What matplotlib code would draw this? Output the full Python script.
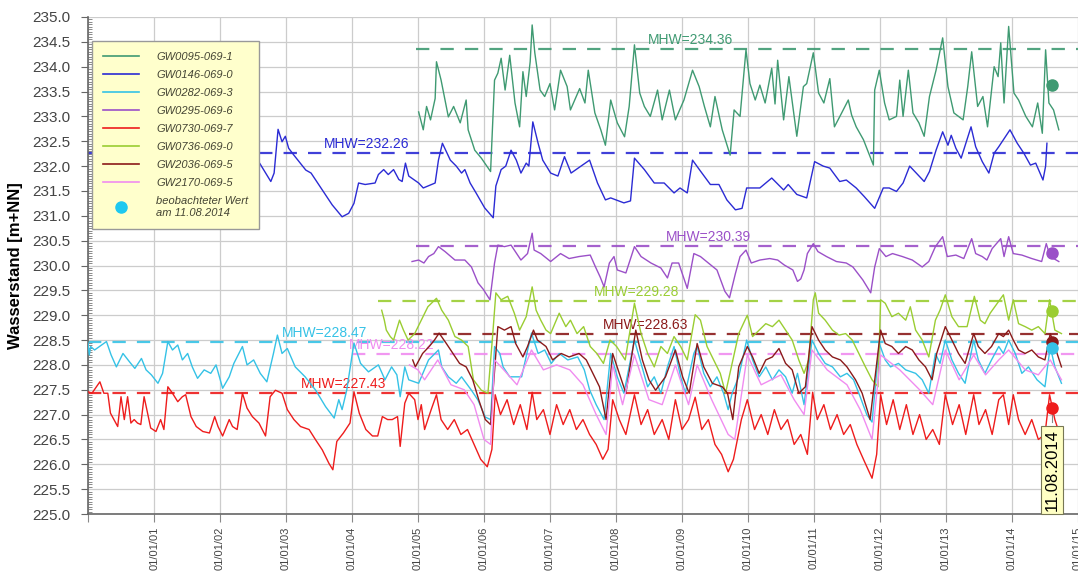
import numpy as np
import pandas as pd
import matplotlib
matplotlib.use("Agg")
import matplotlib.pyplot as plt
import matplotlib.dates as mdates
from matplotlib.lines import Line2D
from matplotlib.ticker import MultipleLocator

plt.rcParams['font.family'] = ['Liberation Sans', 'DejaVu Sans']

# ---------------- data (time in decimal years since 2000-01-01) ----------------
names = ["GW0095-069-1", "GW0146-069-0", "GW0282-069-3", "GW0295-069-6",
         "GW0730-069-7", "GW0736-069-0", "GW2036-069-5", "GW2170-069-5"]
colors = ["#3f9a72", "#2b2bd4", "#35c2e6", "#9b50c8",
          "#ee1c1c", "#9acd32", "#8b1a1a", "#f08cf0"]

t_0095 = [5.01,5.08,5.13,5.19,5.26,5.28,5.35,5.46,5.54,5.64,5.73,5.76,5.86,5.96,6.10,6.16,6.21,6.26,6.32,6.39,
          6.47,6.54,6.59,6.64,6.70,6.73,6.77,6.85,6.92,7.00,7.07,7.16,7.26,7.31,7.45,7.53,7.58,7.68,7.77,7.84,
          7.92,8.02,8.13,8.20,8.28,8.36,8.43,8.52,8.63,8.70,8.81,8.90,9.03,9.16,9.26,9.34,9.43,9.50,9.61,9.73,
          9.79,9.88,9.97,10.03,10.11,10.18,10.26,10.36,10.41,10.45,10.54,10.62,10.74,10.84,10.89,10.99,11.07,11.15,11.24,11.31,
          11.42,11.52,11.57,11.64,11.75,11.90,11.92,11.99,12.07,12.14,12.25,12.30,12.35,12.43,12.50,12.59,12.67,12.75,12.85,12.95,
          13.03,13.12,13.26,13.33,13.39,13.48,13.56,13.63,13.73,13.79,13.83,13.88,13.95,14.03,14.10,14.21,14.31,14.39,14.46,14.51,
          14.56,14.63,14.71]
v_0095 = [233.09,232.73,233.20,232.93,233.36,234.10,233.73,232.99,233.20,232.87,233.33,232.73,232.32,232.16,231.89,233.73,233.87,234.17,233.53,234.23,
          233.27,232.79,233.90,233.40,234.10,234.84,234.28,233.53,233.40,233.66,233.13,233.93,233.60,233.13,233.56,233.27,233.93,233.07,232.73,232.42,
          233.33,232.87,232.59,233.20,234.44,233.47,233.20,233.00,233.53,232.93,233.53,232.93,233.33,233.93,233.60,233.20,232.79,233.40,232.73,232.22,
          233.13,233.00,234.34,233.66,233.33,233.63,233.27,233.97,233.25,234.13,232.93,233.80,232.60,233.60,233.66,234.28,233.47,233.27,233.76,232.79,
          233.07,233.33,233.03,232.79,232.53,232.02,233.53,233.93,233.27,232.93,233.00,233.73,233.00,233.93,233.07,232.87,232.60,233.40,233.93,234.58,
          233.60,233.07,232.93,233.60,234.30,233.20,233.40,232.79,234.00,233.80,234.48,233.27,234.81,233.47,233.33,233.00,232.79,233.27,232.66,234.34,
          233.27,233.13,232.73]

t_0146 = [2.54,2.60,2.77,2.82,2.88,2.94,2.99,3.04,3.12,3.30,3.38,3.55,3.70,3.85,3.95,4.03,4.10,4.20,4.35,4.40,
          4.48,4.55,4.63,4.71,4.76,4.81,4.86,5.01,5.08,5.26,5.31,5.37,5.43,5.49,5.58,5.66,5.71,5.79,5.88,6.01,
          6.14,6.18,6.26,6.33,6.41,6.49,6.56,6.64,6.68,6.74,6.82,6.89,7.01,7.12,7.22,7.32,7.47,7.60,7.72,7.84,
          7.92,8.12,8.22,8.28,8.43,8.58,8.73,8.88,8.97,9.08,9.16,9.28,9.43,9.56,9.68,9.81,9.91,9.98,10.18,10.36,
          10.54,10.61,10.74,10.89,11.01,11.14,11.24,11.39,11.49,11.64,11.76,11.92,12.05,12.14,12.25,12.35,12.45,12.55,12.67,12.75,
          12.85,12.95,13.03,13.08,13.15,13.23,13.38,13.45,13.55,13.65,13.73,13.80,13.97,14.08,14.18,14.28,14.36,14.47,14.51,14.53]
v_0146 = [231.96,232.06,231.69,231.86,232.74,232.49,232.60,232.36,232.22,231.92,231.86,231.52,231.22,230.98,231.05,231.25,231.66,231.63,231.66,231.83,
          231.93,231.83,231.93,231.73,231.69,232.06,231.80,231.66,231.56,231.66,232.12,232.46,232.29,232.12,232.00,231.86,231.93,231.66,231.46,231.16,
          230.96,231.60,231.93,232.00,232.32,232.12,231.86,232.06,232.00,232.89,232.46,232.12,231.86,231.80,232.19,231.86,232.00,232.12,231.66,231.32,
          231.36,231.26,231.30,232.16,231.93,231.66,231.66,231.46,231.56,231.46,232.12,231.90,231.63,231.63,231.32,231.12,231.15,231.56,231.56,231.76,
          231.52,231.63,231.43,231.36,232.09,232.00,231.96,231.69,231.72,231.56,231.39,231.15,231.56,231.56,231.49,231.66,232.00,231.86,231.69,231.89,
          232.32,232.69,232.42,232.62,232.36,232.16,232.79,232.39,232.09,231.86,232.26,232.39,232.73,232.46,232.26,232.02,232.06,231.72,232.00,232.46]

t_0282 = [0.00,0.02,0.04,0.10,0.28,0.35,0.43,0.53,0.63,0.71,0.81,0.88,0.96,1.06,1.13,1.21,1.28,1.36,1.43,1.51,
          1.58,1.66,1.76,1.86,1.94,2.04,2.14,2.21,2.34,2.41,2.51,2.61,2.71,2.81,2.87,2.94,3.02,3.14,3.29,3.45,
          3.60,3.73,3.80,3.85,3.92,4.03,4.13,4.25,4.40,4.50,4.60,4.68,4.73,4.80,4.86,5.01,5.16,5.31,5.36,5.46,
          5.58,5.66,5.81,5.91,6.02,6.10,6.16,6.24,6.29,6.39,6.57,6.72,6.82,6.92,7.02,7.14,7.27,7.42,7.52,7.60,
          7.70,7.82,7.92,8.02,8.12,8.28,8.38,8.48,8.58,8.68,8.78,8.88,8.98,9.05,9.18,9.23,9.33,9.43,9.53,9.63,
          9.70,9.76,9.86,9.98,10.07,10.17,10.27,10.37,10.47,10.57,10.67,10.75,10.85,10.97,11.07,11.17,11.28,11.40,11.50,11.60,
          11.70,11.80,11.88,11.99,12.08,12.16,12.28,12.39,12.54,12.64,12.74,12.84,12.91,12.99,13.09,13.19,13.29,13.42,13.49,13.59,
          13.69,13.80,13.87,13.95,14.05,14.15,14.25,14.38,14.50,14.58,14.65,14.75]
v_0282 = [228.44,228.20,228.37,228.30,228.47,228.20,227.96,228.23,228.06,227.93,228.13,227.90,227.80,227.63,227.83,228.47,228.30,228.40,228.10,228.23,
          227.96,227.73,227.90,227.83,228.00,227.53,227.76,228.03,228.37,228.00,228.10,227.83,227.66,228.23,228.60,228.23,228.33,227.96,227.76,227.49,
          227.16,226.93,227.30,227.10,227.49,228.44,228.03,227.86,228.00,227.70,227.96,227.80,227.36,227.96,227.70,227.63,228.10,228.30,227.96,227.76,
          227.63,227.76,227.49,227.29,226.95,226.90,228.37,228.23,227.96,227.76,227.76,228.64,228.23,228.30,228.03,228.23,228.10,228.16,227.90,227.50,
          227.20,226.90,228.23,227.76,227.43,228.50,228.03,227.56,227.76,227.43,227.96,228.37,227.76,227.43,228.23,228.37,227.83,227.56,227.76,227.43,
          227.10,227.43,227.76,228.50,228.10,227.76,227.96,227.70,227.90,227.76,227.43,227.83,227.20,228.50,228.23,228.03,227.96,227.76,227.83,227.70,
          227.36,227.00,226.85,228.43,228.10,227.96,228.03,227.90,227.83,227.70,227.43,228.23,228.03,228.50,228.10,227.83,227.63,228.50,228.10,227.83,
          228.10,228.37,228.23,228.50,228.23,227.83,227.96,227.70,227.56,228.37,227.96,227.63]

t_0295 = [4.91,5.01,5.09,5.16,5.24,5.31,5.41,5.56,5.71,5.81,5.91,5.99,6.09,6.16,6.21,6.31,6.41,6.56,6.66,6.73,
          6.76,6.86,7.01,7.16,7.29,7.44,7.61,7.69,7.76,7.82,7.90,7.97,8.02,8.15,8.28,8.38,8.53,8.68,8.78,8.85,
          8.95,9.08,9.18,9.28,9.40,9.53,9.65,9.72,9.81,9.88,9.97,10.05,10.18,10.33,10.45,10.55,10.68,10.75,10.80,10.85,
          10.90,10.99,11.06,11.19,11.34,11.49,11.59,11.74,11.86,11.92,11.99,12.09,12.19,12.34,12.49,12.64,12.74,12.84,12.95,13.02,
          13.15,13.27,13.39,13.45,13.55,13.62,13.70,13.83,13.88,13.95,14.02,14.15,14.30,14.45,14.52,14.58,14.71]
v_0295 = [230.08,230.11,230.05,230.18,230.24,230.38,230.28,230.11,230.11,229.97,229.65,229.52,229.31,230.05,230.41,230.38,230.41,230.11,230.24,230.65,
          230.31,230.24,230.08,230.24,230.14,230.18,230.21,229.97,229.77,229.57,230.05,230.18,229.91,229.85,230.38,230.18,230.05,229.95,229.75,230.05,
          230.05,229.54,230.24,230.18,230.05,229.91,229.48,229.35,229.84,230.18,230.31,230.05,230.11,230.14,230.11,230.01,229.91,229.68,229.73,229.91,
          230.24,230.44,230.28,230.18,230.08,230.05,229.97,229.71,229.45,229.97,230.34,230.18,230.24,230.18,230.11,229.97,230.08,230.38,230.58,230.18,
          230.21,230.14,230.54,230.24,230.18,230.11,230.34,230.54,230.18,230.58,230.24,230.21,230.14,230.08,230.44,230.18,230.08]

t_0730 = [0.00,0.06,0.18,0.24,0.30,0.34,0.45,0.50,0.55,0.60,0.65,0.70,0.75,0.80,0.85,0.95,1.03,1.10,1.15,1.21,
          1.28,1.36,1.43,1.48,1.56,1.64,1.74,1.84,1.92,1.97,2.04,2.14,2.19,2.26,2.34,2.41,2.49,2.59,2.69,2.76,
          2.84,2.94,3.02,3.12,3.22,3.35,3.45,3.55,3.65,3.71,3.77,3.87,3.97,4.03,4.11,4.21,4.31,4.39,4.46,4.54,
          4.61,4.69,4.73,4.80,4.86,4.95,5.00,5.05,5.10,5.20,5.28,5.35,5.45,5.55,5.65,5.75,5.85,5.95,6.05,6.12,
          6.17,6.25,6.35,6.45,6.55,6.65,6.73,6.80,6.90,7.00,7.10,7.20,7.30,7.40,7.50,7.60,7.70,7.80,7.88,7.95,
          8.05,8.15,8.28,8.38,8.48,8.58,8.70,8.80,8.90,9.00,9.10,9.20,9.30,9.40,9.50,9.60,9.70,9.78,9.90,9.99,
          10.10,10.20,10.30,10.40,10.50,10.60,10.70,10.80,10.90,10.98,11.05,11.15,11.25,11.35,11.45,11.55,11.65,11.75,11.88,11.95,
          12.01,12.10,12.20,12.30,12.40,12.50,12.60,12.70,12.80,12.90,12.99,13.10,13.20,13.30,13.42,13.50,13.60,13.70,13.80,13.87,
          13.95,14.02,14.10,14.20,14.30,14.40,14.50,14.57,14.65,14.75]
v_0730 = [227.46,227.43,227.66,227.43,227.43,227.03,226.76,227.36,226.90,227.36,226.83,226.90,226.83,226.80,227.36,226.73,226.66,226.90,226.70,227.56,
          227.43,227.26,227.36,227.40,226.96,226.76,226.66,226.63,226.96,226.76,226.57,226.90,226.76,226.70,227.43,227.13,226.96,226.83,226.57,227.36,
          227.49,227.43,227.10,226.90,226.76,226.70,226.49,226.29,226.02,225.89,226.46,226.63,226.83,227.46,227.03,226.70,226.57,226.57,226.96,226.90,
          226.90,226.96,226.36,227.23,227.43,227.30,226.90,227.20,226.70,227.10,227.40,226.90,226.70,226.90,226.60,226.70,226.40,226.10,225.95,226.30,
          227.40,227.00,227.30,226.80,227.20,226.70,227.45,226.90,227.10,226.60,227.20,226.80,227.10,226.70,226.90,226.60,226.40,226.10,226.30,227.30,
          226.90,226.60,227.40,226.80,227.10,226.60,226.90,226.50,227.30,226.70,226.90,227.35,226.70,226.90,226.40,226.20,225.85,226.10,226.90,227.30,
          226.70,227.00,226.60,227.10,226.70,226.90,226.40,226.60,226.20,227.45,226.90,227.20,226.70,227.00,226.60,226.80,226.40,226.10,225.72,226.20,
          227.40,226.80,227.30,226.70,227.20,226.60,227.00,226.50,226.70,226.40,227.40,226.80,227.20,226.60,227.40,226.80,227.10,226.60,227.30,227.40,
          226.80,227.40,226.90,226.60,226.90,226.50,226.60,227.40,226.90,226.50]

t_0736 = [4.45,4.49,4.52,4.58,4.63,4.72,4.78,4.85,4.95,5.05,5.15,5.28,5.36,5.46,5.56,5.66,5.76,5.84,5.96,6.06,
          6.13,6.18,6.26,6.36,6.46,6.54,6.64,6.73,6.79,6.86,6.94,7.01,7.14,7.24,7.31,7.41,7.51,7.61,7.71,7.81,
          7.91,8.01,8.14,8.28,8.38,8.48,8.58,8.68,8.78,8.88,8.98,9.08,9.20,9.28,9.38,9.48,9.58,9.66,9.76,9.86,
          9.99,10.07,10.17,10.27,10.37,10.47,10.57,10.67,10.77,10.85,10.92,10.99,11.02,11.07,11.17,11.28,11.38,11.48,11.58,11.68,
          11.78,11.88,11.97,12.01,12.08,12.18,12.28,12.39,12.46,12.54,12.64,12.74,12.84,12.91,12.99,13.09,13.19,13.32,13.43,13.52,
          13.59,13.67,13.74,13.87,13.95,14.02,14.10,14.20,14.30,14.40,14.50,14.57,14.65,14.75]
v_0736 = [229.10,228.90,228.70,228.57,228.50,228.90,228.70,228.50,228.63,228.90,229.17,229.34,229.10,228.90,228.57,228.50,228.37,227.70,227.49,227.43,
          228.57,229.45,229.31,229.38,229.04,228.70,228.97,229.57,229.10,228.90,228.70,228.63,229.04,228.77,228.90,228.63,228.77,228.37,228.23,228.03,
          228.50,228.37,228.10,229.24,228.63,228.23,227.96,228.37,228.23,228.57,228.37,228.10,229.01,228.90,228.37,228.10,227.83,227.43,228.03,228.63,
          229.00,228.57,228.70,228.83,228.77,228.90,228.70,228.50,228.10,227.83,228.10,229.31,229.45,229.04,228.90,228.70,228.60,228.63,228.50,228.23,
          227.96,227.70,227.56,229.31,229.24,228.97,229.04,228.90,229.17,228.70,228.50,228.16,228.90,229.10,229.41,228.97,228.77,228.77,229.38,228.90,
          228.83,229.04,229.17,229.41,228.90,229.31,228.83,228.77,228.70,228.77,228.63,229.31,228.70,228.63]

t_2036 = [4.92,4.96,5.07,5.17,5.25,5.32,5.43,5.53,5.63,5.73,5.83,5.92,6.02,6.10,6.21,6.31,6.41,6.48,6.59,6.66,
          6.75,6.81,6.94,7.04,7.17,7.29,7.44,7.55,7.65,7.75,7.85,7.95,8.05,8.15,8.30,8.40,8.50,8.60,8.75,8.90,
          9.01,9.11,9.23,9.33,9.46,9.61,9.69,9.77,9.86,9.99,10.07,10.17,10.27,10.37,10.47,10.57,10.67,10.77,10.87,10.97,
          11.07,11.17,11.28,11.40,11.50,11.63,11.73,11.85,12.01,12.08,12.18,12.28,12.39,12.49,12.59,12.69,12.79,12.86,12.99,13.09,
          13.19,13.29,13.42,13.49,13.59,13.69,13.80,13.87,13.95,14.02,14.10,14.20,14.30,14.40,14.50,14.58,14.65,14.75]
v_2036 = [228.10,227.96,228.23,228.37,228.50,228.64,228.43,228.23,228.03,227.96,227.70,227.30,226.90,226.80,228.77,228.70,228.77,228.43,228.16,228.37,
          228.70,228.50,228.37,228.10,228.23,228.16,228.23,228.10,227.83,227.56,226.90,228.23,227.83,227.43,228.70,228.10,227.70,227.49,227.76,228.30,
          227.76,227.43,228.43,227.96,227.63,227.56,227.43,226.90,227.96,228.37,228.16,227.83,228.10,228.16,228.33,228.03,227.90,227.43,227.56,228.77,
          228.50,228.30,228.16,228.10,227.96,227.70,227.43,226.90,228.70,228.43,228.37,228.23,228.37,228.30,228.10,227.96,227.70,228.23,228.77,228.50,
          228.23,228.03,228.63,228.37,228.23,228.37,228.63,228.57,228.70,228.50,228.30,228.23,228.30,228.16,228.10,228.63,228.37,227.96]

t_2170 = [4.87,5.00,5.10,5.30,5.50,5.70,5.85,6.00,6.10,6.16,6.30,6.50,6.72,6.90,7.10,7.30,7.50,7.70,7.85,7.95,
          8.10,8.28,8.50,8.70,8.90,9.10,9.23,9.45,9.70,9.80,9.99,10.20,10.50,10.70,10.85,10.97,11.20,11.50,11.70,11.88,
          12.01,12.30,12.60,12.80,12.99,13.20,13.42,13.60,13.80,13.95,14.20,14.40,14.58,14.75]
v_2170 = [228.00,227.90,227.70,228.10,227.60,227.50,227.20,226.50,226.40,228.10,227.90,227.60,228.30,227.90,228.00,227.90,227.60,227.00,226.60,228.00,
          227.20,228.20,227.30,227.20,228.00,227.20,228.00,227.30,226.60,226.50,228.20,227.60,227.80,227.30,227.00,228.30,227.90,227.60,227.10,226.50,
          228.20,227.90,227.50,227.20,228.30,227.70,228.20,227.80,228.10,228.30,227.90,227.80,228.10,227.70]

series_t = [t_0095, t_0146, t_0282, t_0295, t_0730, t_0736, t_2036, t_2170]
series_v = [v_0095, v_0146, v_0282, v_0295, v_0730, v_0736, v_2036, v_2170]

# mean high water levels (MHW)
mhw_values = [234.36, 232.26, 228.47, 230.39, 227.43, 229.28, 228.63, 228.22]
mhw_idx = [0, 1, 2, 3, 4, 5, 6, 7]
mhw_start = [4.97, 0.0, 0.0, 4.97, 0.0, 4.40, 4.87, 4.00]
mhw_label_t = [8.49, 3.57, 2.94, 8.75, 3.23, 7.66, 7.80, 3.95]

# observation on 11.08.2014
obs_date = "2014-08-11"
obs_idx = [0, 3, 5, 6, 2, 4]
obs_values = [233.63, 230.26, 229.08, 228.46, 228.34, 227.14]

# ---------------- plotting ----------------
base = pd.Timestamp("2000-01-01")
def to_date(t):
    return base + pd.to_timedelta(np.asarray(t, dtype=float) * 365.25, unit="D")

fig = plt.figure(figsize=(10.78, 5.76), dpi=100)
ax = fig.add_axes([88/1078, 1 - 514/576, 1 - 88/1078, (514 - 17)/576])

xmin, xmax = pd.Timestamp("2000-01-01"), pd.Timestamp("2015-01-01")

for i in range(len(names)):
    ax.plot(to_date(series_t[i]), series_v[i], color=colors[i], lw=1.0, zorder=3)

for v, ci, s, lt in zip(mhw_values, mhw_idx, mhw_start, mhw_label_t):
    ax.plot([to_date([s])[0], xmax], [v, v], color=colors[ci], lw=1.6,
            dashes=(6, 5), zorder=2, alpha=0.9)
    ax.text(to_date([lt])[0], v + 0.04, f"MHW={v:.2f}", color=colors[ci],
            fontsize=10, ha="left", va="bottom", zorder=2)

od = pd.Timestamp(obs_date)
for ci, v in zip(obs_idx, obs_values):
    ax.plot([od], [v], "o", color=colors[ci], ms=8, zorder=5)

ax.plot([od, od], [obs_values[-1], 226.85], color="#888888", lw=0.8, zorder=4)
ax.text(od, 225.06, "11.08.2014", rotation=90, ha="center", va="bottom",
        fontsize=12, color="black", zorder=6,
        bbox=dict(boxstyle="square,pad=0.2", fc="#ffffc4", ec="#777755", lw=0.8))

ax.set_xlim(xmin, xmax)
ax.set_ylim(225.0, 235.0)
ax.yaxis.set_major_locator(MultipleLocator(0.5))
ax.yaxis.set_minor_locator(MultipleLocator(0.05))
ax.yaxis.set_major_formatter(matplotlib.ticker.FormatStrFormatter("%.1f"))
ax.xaxis.set_major_locator(mdates.YearLocator())
def xfmt(x, pos):
    d = mdates.num2date(x)
    return "" if d.year == 2000 else d.strftime("%d/%m/%y")
ax.xaxis.set_major_formatter(matplotlib.ticker.FuncFormatter(xfmt))
ax.tick_params(axis="x", labelrotation=90)

ax.grid(True, which="major", color="#cccccc", lw=0.9, zorder=0)
ax.tick_params(axis="y", which="major", direction="out", length=5, pad=8, labelsize=11,
               labelcolor="#444444", color="#666666")
ax.tick_params(axis="y", which="minor", direction="in", length=3, color="#777777")
ax.tick_params(axis="x", which="major", direction="out", length=6, labelsize=8,
               labelcolor="#444444", color="#888888", pad=3)
for sp in ["top", "right"]:
    ax.spines[sp].set_visible(False)
for sp in ["left", "bottom"]:
    ax.spines[sp].set_color("#666666")
    ax.spines[sp].set_linewidth(1.2)

ax.set_ylabel("Wasserstand [m+NN]", fontsize=12, fontweight="bold", labelpad=6)

handles = [Line2D([0], [0], color=c, lw=1.2) for c in colors]
handles.append(Line2D([0], [0], marker="o", color="none", markerfacecolor="#1ec8f0",
                      markeredgecolor="#1ec8f0", ms=8))
labels = names + ["beobachteter Wert\nam 11.08.2014"]
leg = ax.legend(handles, labels, loc="upper left", bbox_to_anchor=(-0.002, 0.963),
                fontsize=8, frameon=True, fancybox=False, framealpha=1,
                facecolor="#ffffcc", edgecolor="#999999", handlelength=3.3,
                labelspacing=0.72, borderpad=1.0, handletextpad=1.5)
for txt in leg.get_texts():
    txt.set_fontstyle("italic")
    txt.set_color("#444433")
leg.set_zorder(10)

fig.savefig("out.png", dpi=100)
